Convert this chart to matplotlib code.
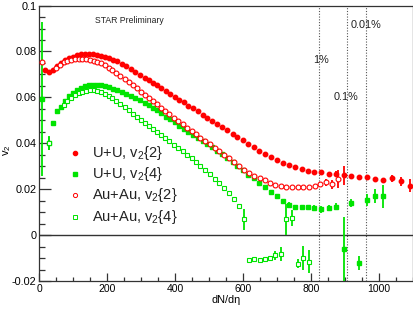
import matplotlib
matplotlib.use("Agg")
import matplotlib.pyplot as plt
from matplotlib.ticker import MultipleLocator, FuncFormatter

plt.rcParams['font.family'] = ['Liberation Sans', 'DejaVu Sans']
plt.rcParams['mathtext.fontset'] = 'custom'
plt.rcParams['mathtext.rm'] = 'Liberation Sans'
plt.rcParams['mathtext.it'] = 'Liberation Sans:italic'

# ---------------- data ----------------
uu_x = [17, 30, 42, 53, 64, 76, 88, 100, 111, 123, 135, 147, 158, 170, 182, 194, 206, 218, 230, 243,
        256, 269, 283, 297, 311, 322, 334, 346, 359, 373, 385, 398, 412, 425, 439, 452, 466, 481, 494, 508,
        523, 538, 552, 569, 583, 598, 614, 631, 647, 663, 683, 700, 717, 736, 753, 772, 792, 809, 830, 851,
        873, 896, 917, 940, 963, 987, 1012, 1037, 1064, 1090]
uu_v22 = [0.0720, 0.0710, 0.0720, 0.0735, 0.0748, 0.0761, 0.0771, 0.0778, 0.0784, 0.0787,
          0.0788, 0.0788, 0.0787, 0.0784, 0.0782, 0.0778, 0.0772, 0.0765, 0.0757, 0.0747,
          0.0736, 0.0724, 0.0712, 0.0699, 0.0686, 0.0674, 0.0664, 0.0652, 0.0641, 0.0628,
          0.0615, 0.0603, 0.0590, 0.0578, 0.0564, 0.0552, 0.0539, 0.0525, 0.0512, 0.0499,
          0.0486, 0.0471, 0.0458, 0.0442, 0.0428, 0.0413, 0.0399, 0.0384, 0.0368, 0.0355,
          0.0341, 0.0325, 0.0315, 0.0306, 0.0297, 0.0289, 0.0280, 0.0277, 0.0274, 0.0268,
          0.0267, 0.0260, 0.0257, 0.0252, 0.0252, 0.0243, 0.0238, 0.0247, 0.0235, 0.0216]
uu_v22_err = [0.0] * 59 + [0.0008, 0.0012, 0.0040, 0.0005, 0.0005, 0.0005, 0.0006, 0.0006,
                           0.0015, 0.0020, 0.0030]

uu4_x = [7, 30, 42, 53, 64, 76, 88, 100, 111, 123, 135, 147, 158, 170, 182, 194, 206, 218, 230, 243,
         256, 269, 283, 297, 311, 322, 334, 346, 359, 373, 385, 398, 412, 425, 439, 452, 466, 481, 494, 508,
         523, 538, 552, 569, 583, 598, 614, 631, 647, 663, 683, 700, 717, 736, 753, 772, 792, 809, 830, 851,
         873, 896, 917, 940, 963, 987, 1012]
uu_v24 = [0.0594, 0.0400, 0.0489, 0.0539, 0.0556, 0.0583, 0.0604, 0.0619, 0.0630, 0.0641,
          0.0648, 0.0652, 0.0653, 0.0653, 0.0652, 0.0648, 0.0644, 0.0638, 0.0631, 0.0624,
          0.0616, 0.0607, 0.0598, 0.0590, 0.0577, 0.0566, 0.0554, 0.0543, 0.0530, 0.0516,
          0.0504, 0.0491, 0.0477, 0.0464, 0.0450, 0.0437, 0.0423, 0.0409, 0.0396, 0.0382,
          0.0367, 0.0352, 0.0337, 0.0318, 0.0301, 0.0283, 0.0264, 0.0247, 0.0225, 0.0209,
          0.0187, 0.0170, 0.0150, 0.0133, 0.0122, 0.0122, 0.0123, 0.0119, 0.0112, 0.0119,
          0.0123, -0.0059, 0.0141, -0.0120, 0.0152, 0.0170, 0.0170]
uu_v24_err = [0.0335, 0.0028] + [0.0] * 51 + [0.0010, 0.0, 0.0, 0.0, 0.0010, 0.0015, 0.0012,
                                               0.0015, 0.0140, 0.0018, 0.0030, 0.0025, 0.0030, 0.0050]

aa_x = [7, 50, 61, 72, 83, 94, 105, 116, 127, 138, 149, 160, 171, 182, 193, 204, 215,
        227, 239, 251, 263, 275, 287, 299, 311, 323, 335, 347, 359, 371, 383, 396, 409, 422, 435, 448, 461,
        474, 488, 502, 516, 530, 544, 558, 573, 588, 603, 618, 633, 648, 664, 680, 695, 712, 727, 744, 760,
        776, 794, 810, 827, 844, 861, 879]
aa_v22 = [0.0752, 0.0730, 0.0742, 0.0752, 0.0759, 0.0764, 0.0767,
          0.0768, 0.0768, 0.0766, 0.0763, 0.0759, 0.0754, 0.0748, 0.0740, 0.0730, 0.0720,
          0.0708, 0.0695, 0.0681, 0.0667, 0.0653, 0.0639, 0.0625, 0.0611, 0.0597, 0.0583,
          0.0569, 0.0555, 0.0541, 0.0527, 0.0512, 0.0497, 0.0482, 0.0467, 0.0453, 0.0439,
          0.0425, 0.0410, 0.0395, 0.0380, 0.0365, 0.0350, 0.0334, 0.0317, 0.0300, 0.0284,
          0.0270, 0.0258, 0.0247, 0.0238, 0.0228, 0.0220, 0.0214, 0.0211, 0.0209, 0.0209,
          0.0209, 0.0209, 0.0212, 0.0222, 0.0230, 0.0222, 0.0245]
aa_v22_err = [0.0] * 60 + [0.0010, 0.0015, 0.0020, 0.0040]

aa4_x = [28, 72, 83, 94, 105, 116, 127, 138, 149, 160, 171, 182, 193, 204, 215, 227, 239, 251, 263, 275,
         287, 299, 311, 323, 335, 347, 359, 371, 383, 396, 409, 422, 435, 448, 461, 474, 488, 502, 516, 530,
         544, 558, 573, 588, 603, 618, 633, 648, 664, 680, 695, 712, 727, 744, 760, 776, 794]
aa_v24 = [0.0400, 0.0568, 0.0585, 0.0598, 0.0609, 0.0617, 0.0624, 0.0628, 0.0630, 0.0630,
          0.0627, 0.0622, 0.0615, 0.0606, 0.0596, 0.0584, 0.0571, 0.0557, 0.0543, 0.0528,
          0.0513, 0.0500, 0.0487, 0.0474, 0.0461, 0.0448, 0.0435, 0.0421, 0.0408, 0.0394,
          0.0380, 0.0366, 0.0351, 0.0336, 0.0320, 0.0303, 0.0284, 0.0265, 0.0245, 0.0225,
          0.0204, 0.0183, 0.0158, 0.0125, 0.0068, -0.0107, -0.0104, -0.0110, -0.0103, -0.0098,
          -0.0088, -0.0081, 0.0068, 0.0076, -0.0124, -0.0100, -0.0116]
aa_v24_err = [0.0030] + [0.0] * 43 + [0.0045, 0.0, 0.0, 0.0, 0.0, 0.0007, 0.0020, 0.0030,
                                       0.0068, 0.0035, 0.0020, 0.0054, 0.0049]

centrality_x = [822, 905, 960]
centrality_labels = ['1%', '0.1%', '0.01%']
centrality_label_pos = [(807, 0.0765), (866, 0.0603), (917, 0.0914)]

legend_labels = ['U+U, v$_2${2}', 'U+U, v$_2${4}', 'Au+Au, v$_2${2}', 'Au+Au, v$_2${4}']

# ---------------- figure ----------------
RED = '#ff0000'
GREEN = '#00e400'
DARK = '#333333'

fig = plt.figure(figsize=(4.14, 3.09), dpi=100)
ax = fig.add_axes([0.0947, 0.0906, 0.9033, 0.8914])
ax.set_xlim(0, 1100)
ax.set_ylim(-0.02, 0.1)

for xv in centrality_x:
    ax.axvline(xv, color='#555555', lw=0.8, ls=(0, (1, 1.5)), zorder=1)
ax.axhline(0, color=DARK, lw=1.0, zorder=1)

ekw = dict(ls='none', elinewidth=1.3, capsize=0)
ax.errorbar(uu_x, uu_v22, yerr=uu_v22_err, marker='o', ms=3.2, mfc=RED, mec=RED,
            ecolor=RED, zorder=3, **ekw)
ax.errorbar(uu4_x, uu_v24, yerr=uu_v24_err, marker='s', ms=3.3, mfc=GREEN, mec=GREEN,
            ecolor=GREEN, zorder=3, **ekw)
ax.errorbar(aa_x, aa_v22, yerr=aa_v22_err, marker='o', ms=3.5, mfc='white', mec=RED, mew=0.8,
            ecolor=RED, zorder=4, **ekw)
ax.errorbar(aa4_x, aa_v24, yerr=aa_v24_err, marker='s', ms=3.4, mfc='white', mec=GREEN, mew=0.8,
            ecolor=GREEN, zorder=4, **ekw)

for xv, lab, (tx, ty) in zip(centrality_x, centrality_labels, centrality_label_pos):
    ax.text(tx, ty, lab, fontsize=7.8, color='#222222', ha='left', va='center', zorder=5)

ax.text(164, 0.0933, 'STAR Preliminary', fontsize=6.2, color='#222222', ha='left', va='center')

# legend (manual)
leg_styles = [dict(marker='o', ms=3.0, mfc=RED, mec=RED),
              dict(marker='s', ms=3.0, mfc=GREEN, mec=GREEN),
              dict(marker='o', ms=3.0, mfc='white', mec=RED, mew=0.7),
              dict(marker='s', ms=3.0, mfc='white', mec=GREEN, mew=0.7)]
row_y = [0.465, 0.387, 0.311, 0.232]
for ry, st, lab in zip(row_y, leg_styles, legend_labels):
    ax.plot([0.0957], [ry], transform=ax.transAxes, ls='none', **st)
    ax.text(0.141, ry, lab, transform=ax.transAxes, fontsize=10.5, va='center', ha='left',
            color='#222222')

# axes styling
for s in ax.spines.values():
    s.set_color(DARK)
    s.set_linewidth(0.9)
ax.xaxis.set_major_locator(MultipleLocator(200))
ax.xaxis.set_minor_locator(MultipleLocator(50))
ax.yaxis.set_major_locator(MultipleLocator(0.02))
ax.yaxis.set_minor_locator(MultipleLocator(0.005))
ax.yaxis.set_major_formatter(FuncFormatter(lambda v, p: '%g' % round(v, 4)))
ax.tick_params(axis='y', which='major', direction='in', length=8.5, width=0.9, color=DARK,
               labelsize=7.8, pad=2, left=True, right=False)
ax.tick_params(axis='y', which='minor', direction='in', length=4.3, width=0.9, color=DARK,
               left=True, right=False)
ax.tick_params(axis='x', which='major', direction='in', length=6, width=0.9, color=DARK,
               labelsize=7.5, pad=2, bottom=True, top=False)
ax.tick_params(axis='x', which='minor', direction='in', length=3, width=0.9, color=DARK,
               bottom=True, top=False)

ax.set_xlabel('dN/d\u03b7', fontsize=7.8, labelpad=1)
ax.set_ylabel('v$_2$', fontsize=8)
ax.yaxis.set_label_coords(-0.07, 0.475)

fig.savefig('out.png', dpi=100)
